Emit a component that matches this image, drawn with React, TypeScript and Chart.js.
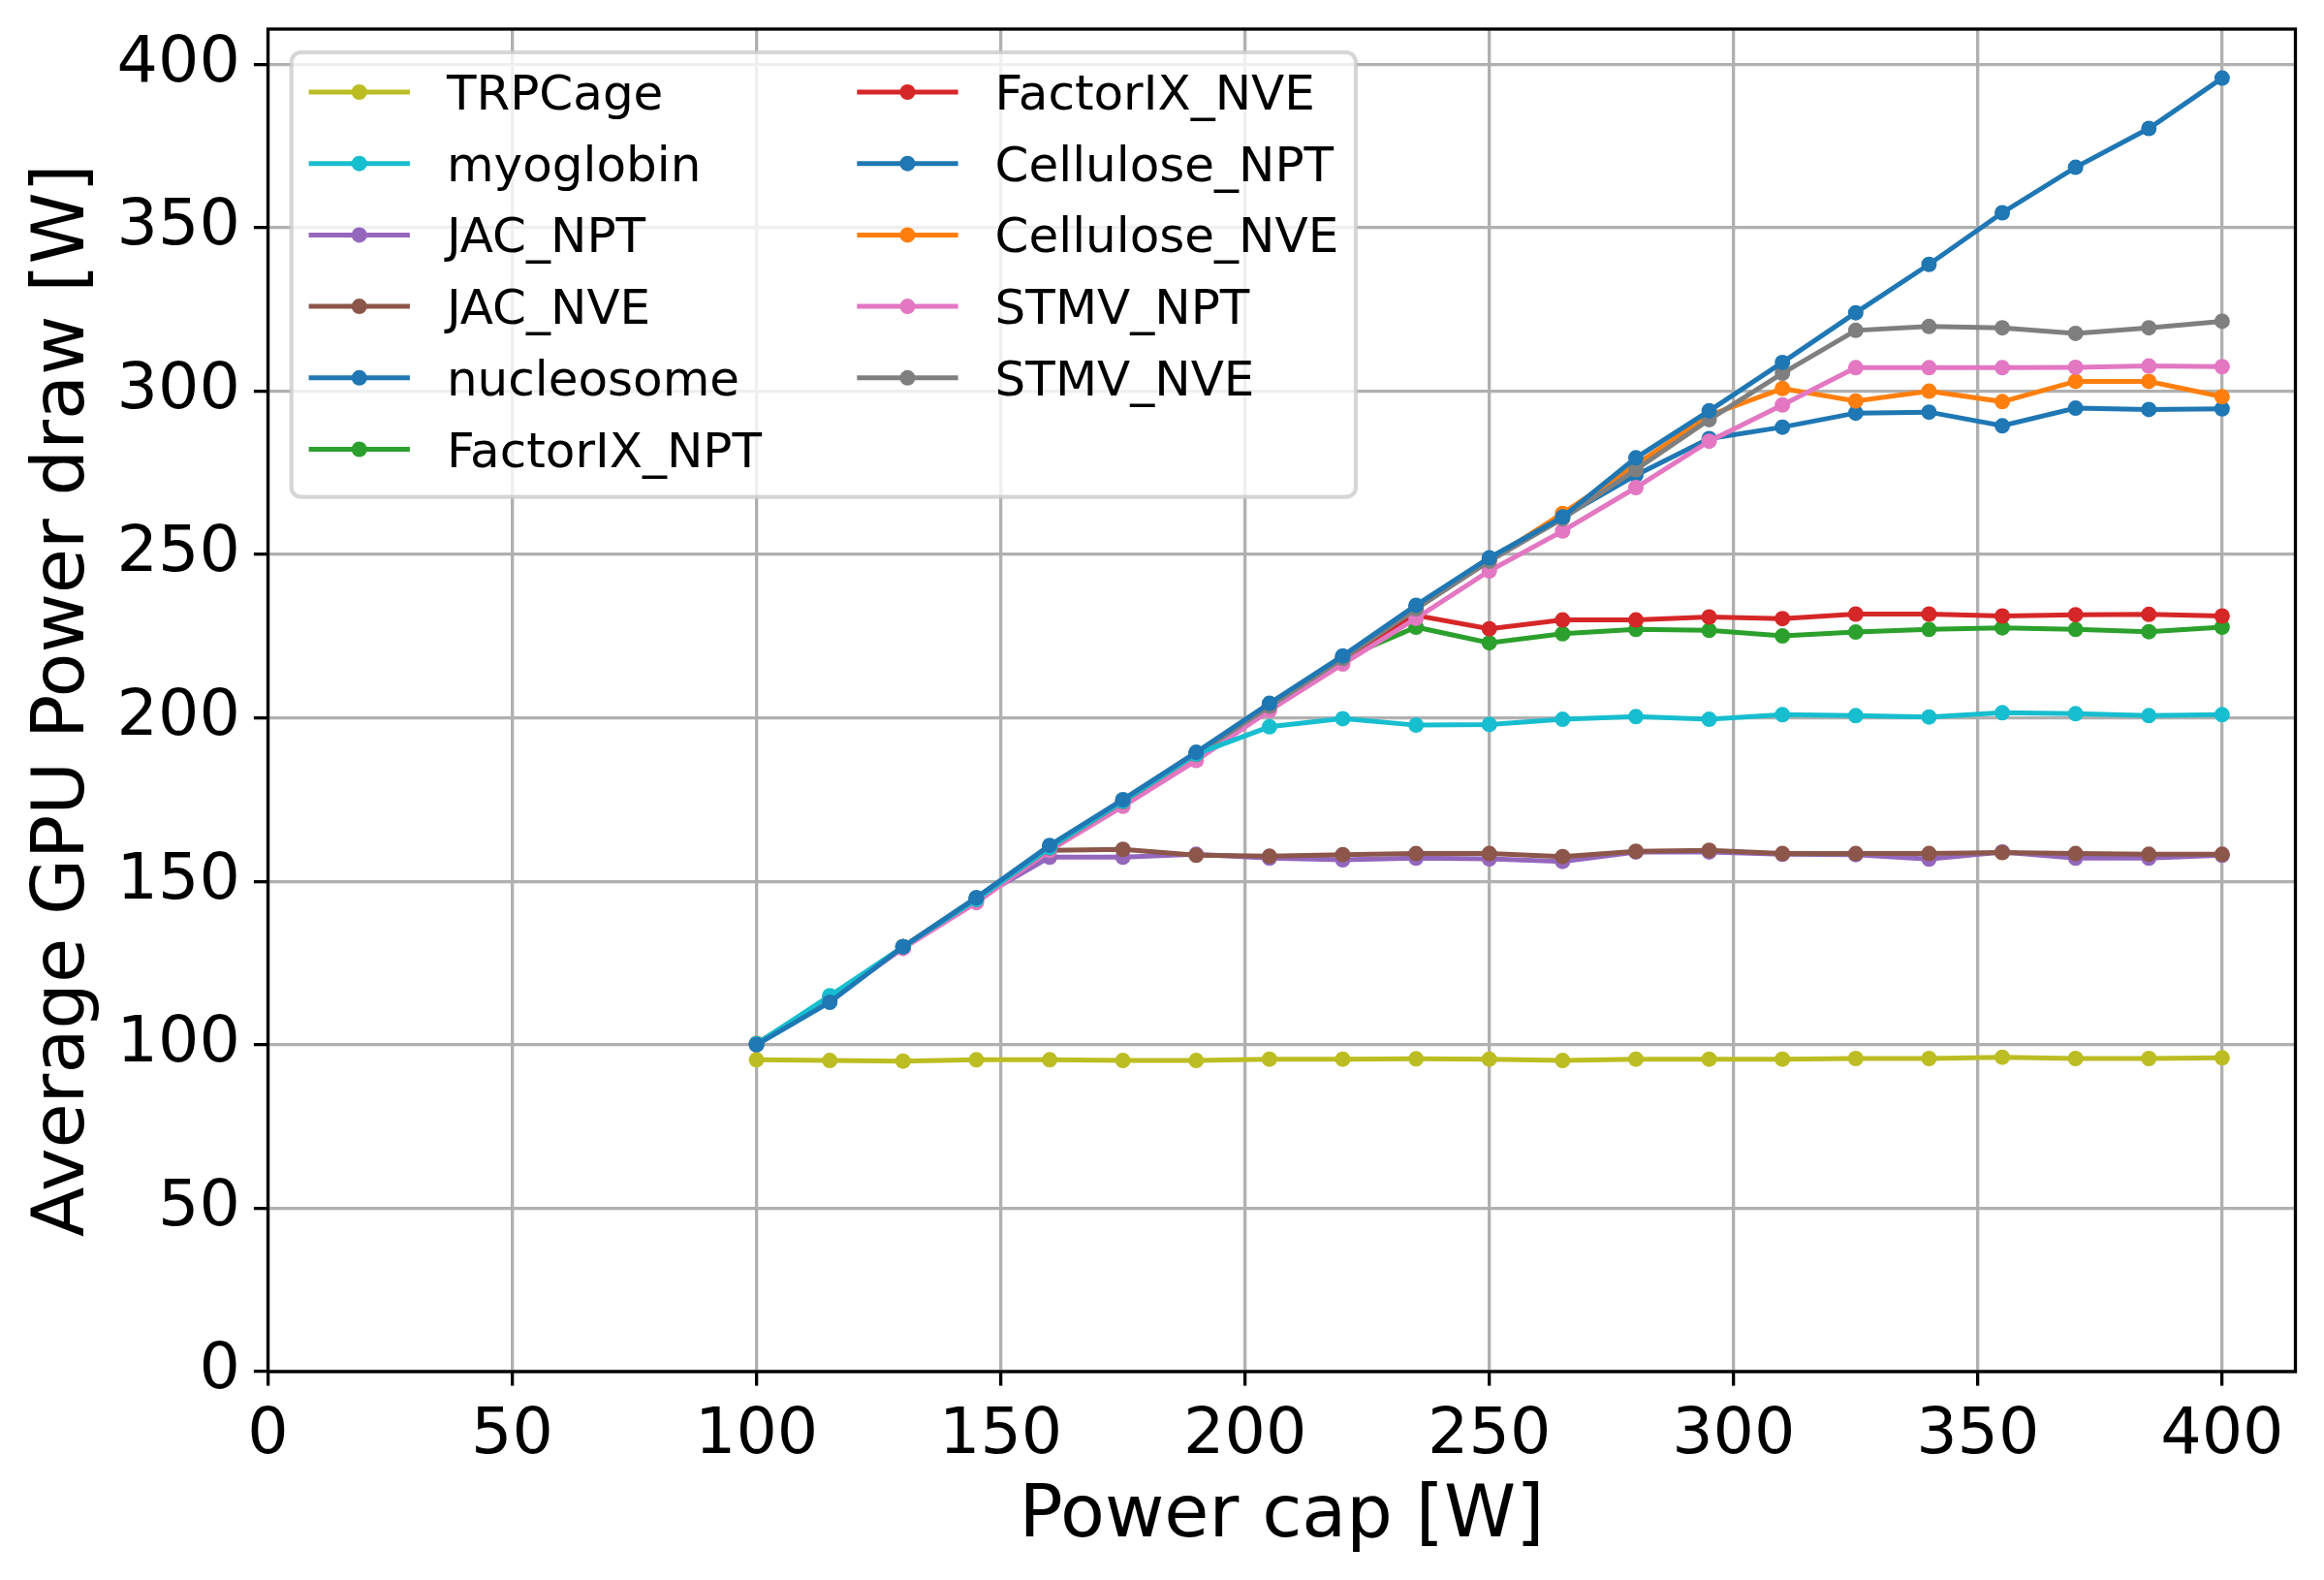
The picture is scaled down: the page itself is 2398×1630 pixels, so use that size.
import { useEffect, useRef } from "react";
import { Chart, registerables } from "chart.js";

Chart.register(...registerables);

// Power cap settings [W]
const powerCap = [100, 115, 130, 145, 160, 175, 190, 205, 220, 235, 250, 265, 280, 295, 310, 325, 340, 355, 370, 385, 400];

// Average GPU power draw [W] for each benchmark
const celluloseNpt = [100.2, 113.5, 130, 145, 160.5, 174.8, 189.2, 204, 218.6, 234, 248.6, 261.4, 274.3, 285.5, 289, 293.3, 293.6, 289.4, 294.8, 294.4, 294.6];
const celluloseNve = [100.4, 114, 130, 144.6, 160.3, 174.6, 189, 203.8, 218.4, 233.6, 248.2, 262.6, 277.5, 292.6, 300.8, 297, 300, 296.8, 303, 303, 298.3];
const factorIxNpt = [100.3, 114.2, 130, 144.6, 160.2, 174.5, 189, 203.7, 218.2, 227.8, 223, 225.8, 227.1, 226.8, 225.1, 226.3, 227.1, 227.6, 227.1, 226.4, 227.8];
const factorIxNve = [100.3, 114.3, 130, 144.6, 160.2, 174.5, 189, 203.8, 218.3, 231.4, 227.3, 230, 230, 230.9, 230.4, 231.8, 231.8, 231.2, 231.6, 231.7, 231.2];
const jacNpt = [100.2, 114.3, 129.8, 144.5, 157.4, 157.4, 158.3, 157.1, 156.6, 157.1, 156.9, 156.1, 159, 159, 158.3, 158.2, 156.8, 159, 157.1, 157.1, 158];
const jacNve = [100.2, 114.3, 129.8, 144.5, 159.5, 159.8, 158, 157.7, 158.2, 158.5, 158.5, 157.6, 159.2, 159.5, 158.5, 158.5, 158.5, 158.8, 158.5, 158.3, 158.3];
const stmvNpt = [100, 114, 129.5, 143.5, 159.5, 173, 187, 202.3, 216.5, 230.5, 245, 257.2, 270.5, 284.7, 295.8, 307.2, 307.2, 307.2, 307.3, 307.7, 307.5];
const stmvNve = [100.2, 114, 130, 144.5, 160.2, 174.4, 188.8, 203.6, 218.2, 233.4, 248, 261, 276, 291.3, 305.5, 318.6, 319.8, 319.4, 317.7, 319.4, 321.4];
const trpCage = [95.4, 95.2, 95.0, 95.4, 95.4, 95.2, 95.2, 95.6, 95.6, 95.7, 95.6, 95.2, 95.6, 95.6, 95.6, 95.8, 95.8, 96.2, 95.8, 95.8, 96.0];
const myoglobin = [100.3, 115, 130, 144.5, 160.4, 174.6, 189, 197.3, 199.8, 197.8, 198, 199.6, 200.4, 199.6, 201, 200.7, 200.3, 201.6, 201.3, 200.7, 201];
const nucleosome = [100, 113, 130, 145, 161, 175, 189.5, 204.5, 219, 234.5, 249, 261.5, 279.6, 294, 308.8, 324, 338.8, 354.6, 368.5, 380.4, 395.8];

// Axis limits and ticks
const X_MAX = 415;
const Y_MAX = 410.8;
const TICK_STEP = 50;

// Series in drawing order (later ones end up on top)
const seriesNames = ["Cellulose_NPT", "Cellulose_NVE", "FactorIX_NPT", "FactorIX_NVE", "JAC_NPT", "JAC_NVE", "STMV_NPT", "STMV_NVE", "TRPCage", "myoglobin", "nucleosome"];
const seriesValues = [celluloseNpt, celluloseNve, factorIxNpt, factorIxNve, jacNpt, jacNve, stmvNpt, stmvNve, trpCage, myoglobin, nucleosome];
const seriesColors = ["#1f77b4", "#ff7f0e", "#2ca02c", "#d62728", "#9467bd", "#8c564b", "#e377c2", "#7f7f7f", "#bcbd22", "#17becf", "#1f77b4"];

// Order of entries in the legend box (column-major, two columns)
const legendOrder = ["TRPCage", "myoglobin", "JAC_NPT", "JAC_NVE", "nucleosome", "FactorIX_NPT", "FactorIX_NVE", "Cellulose_NPT", "Cellulose_NVE", "STMV_NPT", "STMV_NVE"];

const FONT = "'DejaVu Sans', sans-serif";
const LINE_WIDTH = 5;
const POINT_RADIUS = 8;
const GRID_COLOR = "#b0b0b0";
const AXIS_LW = 3.3;

const spinesPlugin = {
  id: "spines",
  afterDatasetsDraw(chart: any) {
    const { ctx, chartArea } = chart;
    ctx.save();
    ctx.strokeStyle = "#000";
    ctx.lineWidth = AXIS_LW;
    ctx.strokeRect(chartArea.left, chartArea.top, chartArea.right - chartArea.left, chartArea.bottom - chartArea.top);
    ctx.restore();
  },
};

const legendPlugin = {
  id: "boxLegend",
  afterDraw(chart: any) {
    const ctx = chart.ctx as CanvasRenderingContext2D;
    const box = { x: 300.7, y: 54, w: 1098.3, h: 458.7, r: 10 };
    const rows = 6;
    const colX = [318.6, 884.3];
    const rowY0 = 95;
    const rowGap = 73.7;
    const handleLen = 104.3;
    const textGap = 38;

    ctx.save();
    ctx.beginPath();
    (ctx as any).roundRect(box.x, box.y, box.w, box.h, box.r);
    ctx.fillStyle = "rgba(255,255,255,0.8)";
    ctx.fill();
    ctx.lineWidth = 4.2;
    ctx.strokeStyle = "rgba(204,204,204,0.8)";
    ctx.stroke();

    ctx.font = `50px ${FONT}`;
    ctx.textBaseline = "alphabetic";
    ctx.textAlign = "left";
    legendOrder.forEach((name, i) => {
      const ds = chart.data.datasets.find((d: any) => d.label === name);
      if (!ds) return;
      const col = Math.floor(i / rows);
      const row = i % rows;
      const hx = colX[col];
      const cy = rowY0 + row * rowGap;
      ctx.strokeStyle = ds.borderColor;
      ctx.lineWidth = LINE_WIDTH;
      ctx.beginPath();
      ctx.moveTo(hx, cy);
      ctx.lineTo(hx + handleLen, cy);
      ctx.stroke();
      ctx.fillStyle = ds.borderColor;
      ctx.beginPath();
      ctx.arc(hx + handleLen / 2, cy, POINT_RADIUS, 0, Math.PI * 2);
      ctx.fill();
      ctx.fillStyle = "#000";
      ctx.fillText(name, hx + handleLen + textGap, cy + 18);
    });
    ctx.restore();
  },
};

function zeroPadding(scale: any) {
  scale.paddingLeft = 0;
  scale.paddingRight = 0;
  scale.paddingTop = 0;
  scale.paddingBottom = 0;
}

export default function App() {
  const canvasRef = useRef<HTMLCanvasElement | null>(null);

  useEffect(() => {
    document.body.style.margin = "0";
    const canvas = canvasRef.current;
    if (!canvas) return;

    const datasets = seriesNames.map((name, i) => ({
      label: name,
      data: powerCap.map((x, j) => ({ x, y: seriesValues[i][j] })),
      borderColor: seriesColors[i],
      backgroundColor: seriesColors[i],
      pointBackgroundColor: seriesColors[i],
      pointBorderWidth: 0,
      pointRadius: POINT_RADIUS,
      borderWidth: LINE_WIDTH,
      tension: 0,
      fill: false,
      order: seriesNames.length - 1 - i,
    }));

    const chart = new Chart(canvas, {
      type: "line",
      data: { datasets },
      options: {
        responsive: false,
        animation: false,
        devicePixelRatio: 1,
        events: [],
        layout: { padding: { top: 30, right: 29.5, bottom: 0, left: 0 } },
        plugins: {
          legend: { display: false },
          tooltip: { enabled: false },
        },
        scales: {
          x: {
            type: "linear",
            min: 0,
            max: X_MAX,
            afterFit: (s: any) => {
              s.height = 215;
              zeroPadding(s);
            },
            border: { display: false },
            grid: {
              color: GRID_COLOR,
              lineWidth: AXIS_LW,
              tickColor: "#000",
              tickWidth: AXIS_LW,
              tickLength: 14.6,
            },
            ticks: {
              stepSize: TICK_STEP,
              includeBounds: false,
              autoSkip: false,
              maxRotation: 0,
              color: "#000",
              padding: 12,
              font: { family: FONT, size: 66.7 },
            },
            title: {
              display: true,
              text: "Power cap [W]",
              color: "#000",
              font: { family: FONT, size: 75 },
              padding: { top: 0, bottom: 19 },
            },
          },
          y: {
            type: "linear",
            min: 0,
            max: Y_MAX,
            afterFit: (s: any) => {
              s.width = 276.5;
              zeroPadding(s);
            },
            border: { display: false },
            grid: {
              color: GRID_COLOR,
              lineWidth: AXIS_LW,
              tickColor: "#000",
              tickWidth: AXIS_LW,
              tickLength: 14.6,
            },
            ticks: {
              stepSize: TICK_STEP,
              includeBounds: false,
              color: "#000",
              padding: 14,
              font: { family: FONT, size: 66.7 },
            },
            title: {
              display: true,
              text: "Average GPU Power draw [W]",
              color: "#000",
              font: { family: FONT, size: 75 },
              padding: { top: 22, bottom: 0 },
            },
          },
        },
      },
      plugins: [spinesPlugin, legendPlugin],
    } as any);

    return () => chart.destroy();
  }, []);

  return (
    <div style={{ width: 2398, height: 1630, background: "#fff" }}>
      <canvas ref={canvasRef} width={2398} height={1630} style={{ display: "block" }} />
    </div>
  );
}
